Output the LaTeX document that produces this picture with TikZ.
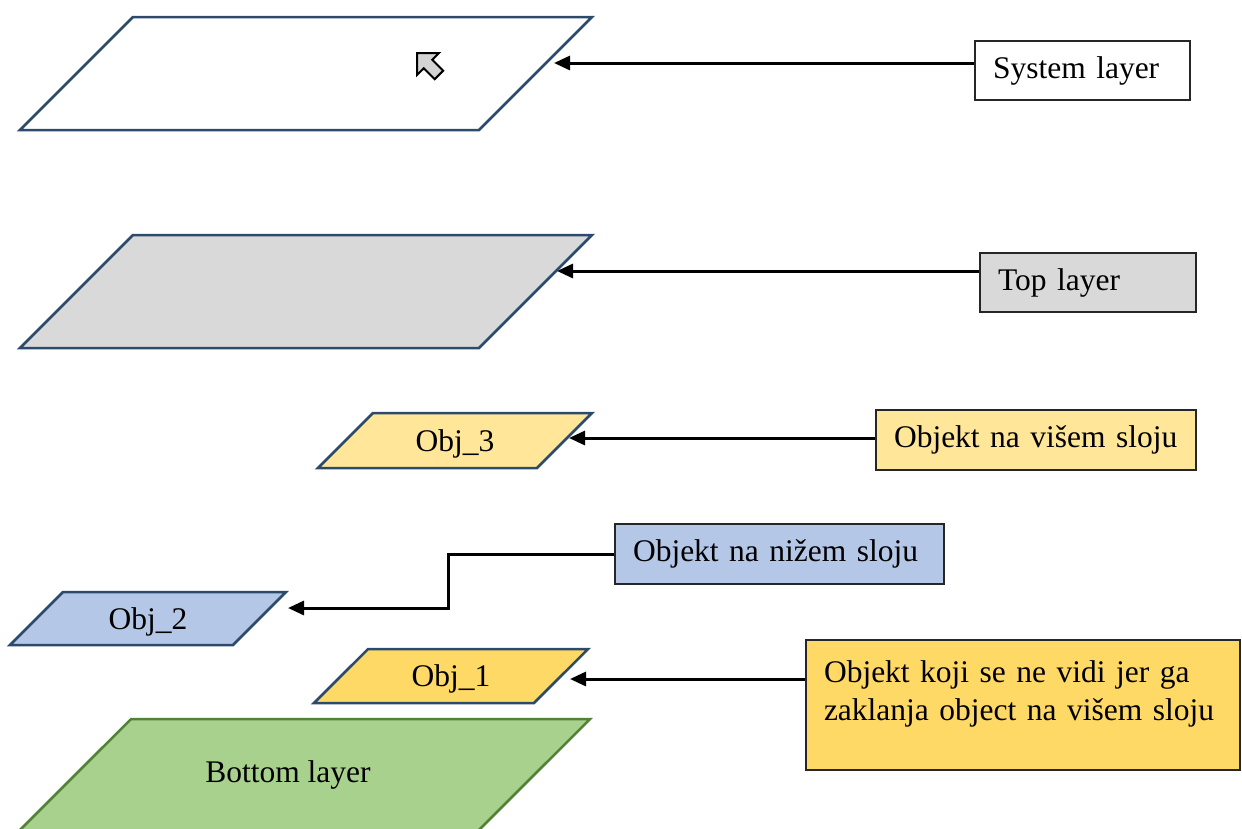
\documentclass[tikz,border=0pt]{standalone}
\usepackage{fontspec}
\setmainfont{Liberation Serif}
\usetikzlibrary{arrows.meta,shapes.geometric}

\definecolor{layerblue}{HTML}{2C4A6B}
\definecolor{topgray}{HTML}{D9D9D9}
\definecolor{obj3yellow}{HTML}{FFE699}
\definecolor{obj1yellow}{HTML}{FFD966}
\definecolor{obj2blue}{HTML}{B4C7E7}
\definecolor{bottomgreen}{HTML}{A9D18E}
\definecolor{bottomline}{HTML}{548235}
\definecolor{cursorgray}{HTML}{D4D4D4}

\begin{document}
\begin{tikzpicture}[x=1pt,y=-1pt,font=\fontsize{31.5}{38}\selectfont]
    \clip (0,0) rectangle (1242,828);

    % layers and objects
    \begin{scope}[every node/.style={trapezium,trapezium left angle=45,trapezium right angle=135,
        trapezium stretches body=true,draw=layerblue,line width=2.5pt,inner sep=0pt}]
      \node[fill=white,minimum width=572pt,text height=56.5pt,text depth=56.5pt] (sys) at (306,73.5) {};
      \node[fill=topgray,minimum width=572pt,text height=56.5pt,text depth=56.5pt] (top) at (306,291.5) {};
      \node[fill=obj3yellow,minimum width=274pt,text height=38pt,text depth=17pt] (obj3) at (455,440.5) {Obj\_3};
      \node[fill=obj2blue,minimum width=276pt,text height=37pt,text depth=16pt] (obj2) at (148,618.5) {Obj\_2};
      \node[fill=obj1yellow,minimum width=274pt,text height=37.5pt,text depth=16.5pt] (obj1) at (451,676) {Obj\_1};
      \node[fill=bottomgreen,draw=bottomline,minimum width=572pt,text height=63pt,text depth=50pt] (bottom) at (304,775.5) {Bottom layer\hspace*{32pt}};
    \end{scope}

    % mouse pointer
    \draw[fill=cursorgray,line width=2pt] (417,53) -- (439,53) -- (432.3,59.8) -- (443.2,70.7)
      -- (434.7,79.2) -- (423.8,68.3) -- (417,75) -- cycle;

    % labels
    \begin{scope}[every node/.style={draw=black!85,line width=1.5pt,inner xsep=18pt,align=left,minimum height=59pt}]
      \node[fill=white,text width=179pt] (sysbox) at (1082.5,70.5) {\mbox{System layer}};
      \node[fill=topgray,text width=180pt] (topbox) at (1088,282.5) {\mbox{Top layer}};
      \node[fill=obj3yellow,text width=284pt,minimum height=60pt] (obj3box) at (1036,440) {\mbox{Objekt na višem sloju}};
      \node[fill=obj2blue,text width=293pt,minimum height=60pt] (obj2box) at (779.5,554) {\mbox{Objekt na nižem sloju}};
      \node[fill=obj1yellow,text width=398pt,minimum height=130pt] (obj1box) at (1023,705)
        {Objekt koji se ne vidi jer ga\\zaklanja object na višem sloju\\[-10pt]\mbox{}};
    \end{scope}

    \coordinate (systip) at (554,63);
    \coordinate (toptip) at (557,271);
    \coordinate (obj3tip) at (569,438);
    \coordinate (obj2bend) at (448,580);
    \coordinate (obj2tip) at (288,608);
    \coordinate (obj1tip) at (570,679);

    \begin{scope}[>={Triangle[length=16pt,width=14pt]},
        every edge/.style={draw=black,line width=3pt}]
      \path [->] (sysbox.west |- systip) edge (systip);
      \path [->] (topbox.west |- toptip) edge (toptip);
      \path [->] (obj3box.west |- obj3tip) edge (obj3tip);
      \path [->] (obj1box.west |- obj1tip) edge (obj1tip);
      \draw [->,line width=3pt] (obj2box.west) -| (obj2bend) |- (obj2tip);
    \end{scope}
  \end{tikzpicture}
\end{document}
